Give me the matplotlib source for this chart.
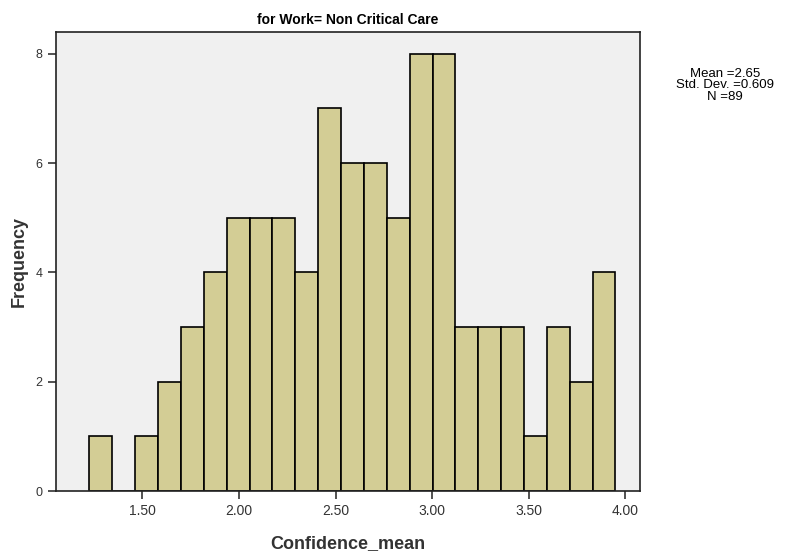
import numpy as np
import matplotlib
matplotlib.use('Agg')
import matplotlib.pyplot as plt

# histogram
bin_start = 1.225
bin_width = 0.1185
counts = [1, 0, 1, 2, 3, 4, 5, 5, 5, 4, 7, 6, 6, 5, 8, 8, 3, 3, 3, 1, 3, 2, 4]
x_ticks = [1.5, 2.0, 2.5, 3.0, 3.5, 4.0]
y_ticks = [0, 2, 4, 6, 8]
stats_text = "Mean =2.65\nStd. Dev. =0.609\nN =89"

plt.rcParams['font.family'] = ['Liberation Sans Narrow', 'Liberation Sans', 'DejaVu Sans']

fig = plt.figure(figsize=(8.09, 5.6), dpi=100)
ax = fig.add_axes([0.0692, 0.1232, 0.7218, 0.8198])
ax.set_facecolor('#f0f0f0')

edges = bin_start + bin_width * np.arange(len(counts))
ax.bar(edges, counts, width=bin_width, align='edge', color='#d3cd95',
       edgecolor='black', linewidth=1.2)

ax.set_xlim(1.052, 4.077)
ax.set_ylim(0, 8.4)
ax.set_xticks(x_ticks)
ax.set_xticklabels(['%.2f' % t for t in x_ticks], fontsize=10)
ax.set_yticks(y_ticks)
ax.set_yticklabels([str(t) for t in y_ticks], fontsize=9)
ax.tick_params(axis='both', direction='out', length=6, width=1.2, colors='#333333')

for s in ax.spines.values():
    s.set_linewidth(1.2)
    s.set_color('#222222')

ax.set_xlabel('Confidence_mean', fontsize=13, fontweight='bold',
              family=['Liberation Sans', 'DejaVu Sans'], color='#333333', labelpad=12)
ax.set_ylabel('Frequency', fontsize=13, fontweight='bold',
              family=['Liberation Sans', 'DejaVu Sans'], color='#333333', labelpad=6)
ax.set_title('for Work= Non Critical Care', fontsize=10, fontweight='bold', pad=6)

fig.text(0.896, 0.878, stats_text, ha='center', va='top', fontsize=9.5,
         linespacing=0.9)

fig.savefig('out.png', dpi=100)
